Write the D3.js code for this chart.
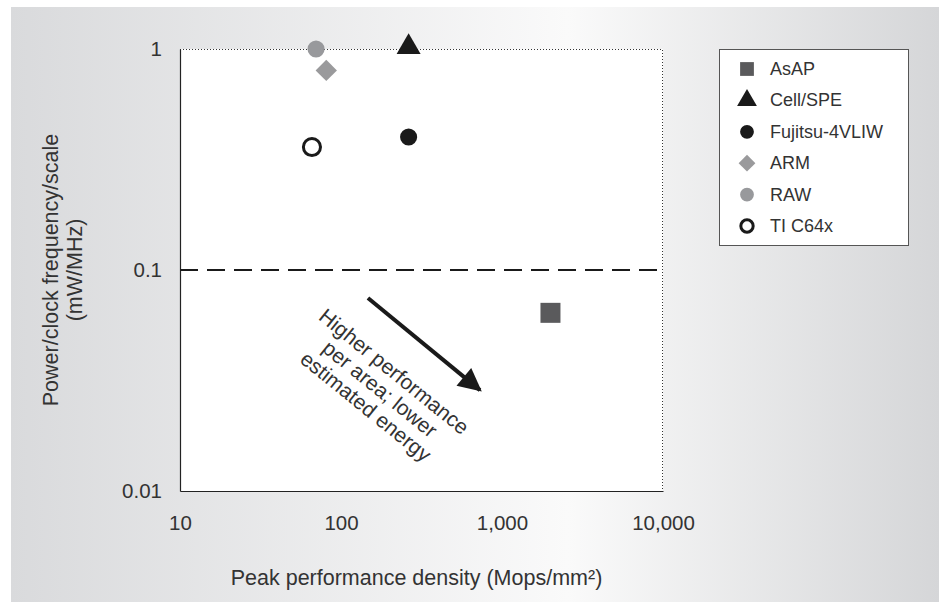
<!DOCTYPE html>
<html>
<head>
<meta charset="utf-8">
<script src="https://cdn.jsdelivr.net/npm/d3@7"></script>
<style>
  html, body { margin: 0; padding: 0; background: #fff; }
  svg { display: block; }
  text { font-family: "Liberation Sans", Arial, sans-serif; fill: #333; }
</style>
</head>
<body>
<svg id="chart" width="939" height="602"></svg>
<script>
  // processors, Mops/mm^2 vs mW/MHz
  var names = ["AsAP", "Cell/SPE", "Fujitsu-4VLIW", "ARM", "RAW", "TI C64x"];
  var density = [2000, 263, 263, 81, 70, 66];
  var power = [0.064, 1.0, 0.40, 0.80, 1.0, 0.36];
  var xTicks = [10, 100, 1000, 10000];
  var xTickLabels = ["10", "100", "1,000", "10,000"];
  var yTicks = [0.01, 0.1, 1];
  var yTickLabels = ["0.01", "0.1", "1"];
  var refLine = 0.1;
  var arrowFrom = [147, 0.0747];
  var arrowTo = [730, 0.0286];
  var noteAt = [175, 0.029];
  var noteLines = ["Higher performance", "per area; lower", "estimated energy"];

  var margin = { left: 180, top: 49, right: 276, bottom: 111 };
  var W = 939, H = 602;

  var svg = d3.select("#chart");

  var defs = svg.append("defs");
  var grad = defs.append("linearGradient").attr("id", "bg")
    .attr("x1", "0").attr("x2", "1").attr("y1", "0").attr("y2", "0");
  grad.append("stop").attr("offset", "0").attr("stop-color", "#d9dadc");
  grad.append("stop").attr("offset", "0.6").attr("stop-color", "#fafafa");
  grad.append("stop").attr("offset", "1").attr("stop-color", "#d5d6d8");

  defs.append("marker").attr("id", "head")
    .attr("viewBox", "0 0 10 10").attr("refX", 9).attr("refY", 5)
    .attr("markerWidth", 6.5).attr("markerHeight", 5.8)
    .attr("markerUnits", "strokeWidth").attr("orient", "auto")
    .append("path").attr("d", "M0,0L10,5L0,10Z").attr("fill", "#1a1a1a");

  svg.append("rect").attr("x", 11).attr("y", 7)
    .attr("width", W - 11).attr("height", H - 7).attr("fill", "url(#bg)");

  var x = d3.scaleLog().domain([10, 10000]).range([margin.left, W - margin.right]);
  var y = d3.scaleLog().domain([0.01, 1]).range([H - margin.bottom, margin.top]);

  var x0 = x.range()[0], x1 = x.range()[1], y0 = y.range()[0], y1 = y.range()[1];

  svg.append("rect").attr("x", x0).attr("y", y1)
    .attr("width", x1 - x0).attr("height", y0 - y1).attr("fill", "#fff");

  // dotted top/right frame
  svg.append("path")
    .attr("d", "M" + x0 + "," + (y1 + 0.5) + "H" + (x1 - 0.5) + "V" + y0)
    .attr("fill", "none").attr("stroke", "#333").attr("stroke-width", 1)
    .attr("stroke-dasharray", "1,2");

  var xAxis = d3.axisBottom(x).tickValues(xTicks)
    .tickFormat(function (d, i) { return xTickLabels[i]; })
    .tickSize(0).tickPadding(24);
  var yAxis = d3.axisLeft(y).tickValues(yTicks)
    .tickFormat(function (d, i) { return yTickLabels[i]; })
    .tickSize(0).tickPadding(18);

  var gx = svg.append("g").attr("transform", "translate(0," + y0 + ")").call(xAxis);
  var gy = svg.append("g").attr("transform", "translate(" + x0 + ",0)").call(yAxis);
  [gx, gy].forEach(function (g) {
    g.select(".domain").attr("stroke", "#222").attr("stroke-width", 1.2);
    g.selectAll("text").attr("font-size", 20.5)
      .attr("font-family", "Liberation Sans, Arial, sans-serif").attr("fill", "#333");
  });

  // reference line at 0.1
  svg.append("line")
    .attr("x1", x0).attr("x2", x1)
    .attr("y1", y(refLine)).attr("y2", y(refLine))
    .attr("stroke", "#1a1a1a").attr("stroke-width", 2)
    .attr("stroke-dasharray", "18,9");

  // arrow + note
  svg.append("line")
    .attr("x1", x(arrowFrom[0])).attr("y1", y(arrowFrom[1]))
    .attr("x2", x(arrowTo[0])).attr("y2", y(arrowTo[1]))
    .attr("stroke", "#1a1a1a").attr("stroke-width", 4)
    .attr("marker-end", "url(#head)");

  var note = svg.append("g")
    .attr("transform", "translate(" + x(noteAt[0]) + "," + y(noteAt[1]) + ") rotate(39)");
  note.selectAll("text").data(noteLines).enter().append("text")
    .attr("text-anchor", "middle").attr("dominant-baseline", "central")
    .attr("y", function (d, i) { return (i - 1) * 22.5; })
    .attr("font-size", 21)
    .text(function (d) { return d; });

  // marker shapes
  var styles = {
    "AsAP": { type: d3.symbolSquare, fill: "#5a5a5c", stroke: "none" },
    "Cell/SPE": { type: d3.symbolTriangle, fill: "#1a1a1a", stroke: "none" },
    "Fujitsu-4VLIW": { type: d3.symbolCircle, fill: "#1a1a1a", stroke: "none" },
    "ARM": { type: d3.symbolDiamond2, fill: "#9a9a9c", stroke: "none" },
    "RAW": { type: d3.symbolCircle, fill: "#98999c", stroke: "none" },
    "TI C64x": { type: d3.symbolCircle, fill: "#fff", stroke: "#1a1a1a" }
  };
  var plotSize = { "AsAP": 400, "Cell/SPE": 250, "Fujitsu-4VLIW": 230, "ARM": 290, "RAW": 230, "TI C64x": 230 };
  var legendSize = { "AsAP": 190, "Cell/SPE": 170, "Fujitsu-4VLIW": 150, "ARM": 180, "RAW": 150, "TI C64x": 120 };

  function drawSym(sel, sizes) {
    sel.attr("d", function (d) {
        return d3.symbol().type(styles[d].type).size(sizes[d])();
      })
      .attr("fill", function (d) { return styles[d].fill; })
      .attr("stroke", function (d) { return styles[d].stroke; })
      .attr("stroke-width", 3);
  }

  svg.append("g").selectAll("path")
    .data(names).enter().append("path")
    .attr("transform", function (d, i) {
      var dy = styles[d].type === d3.symbolTriangle ? -2 : 0;
      return "translate(" + x(density[i]) + "," + (y(power[i]) + dy) + ")";
    })
    .call(drawSym, plotSize);

  // legend
  var legend = svg.append("g").attr("transform", "translate(719,49)");
  legend.append("rect").attr("x", 0.5).attr("y", 0.5)
    .attr("width", 189).attr("height", 196)
    .attr("fill", "#fff").attr("stroke", "#555").attr("stroke-width", 1);
  var rows = legend.selectAll(".row").data(names).enter().append("g")
    .attr("class", "row")
    .attr("transform", function (d, i) { return "translate(0," + (20 + i * 31.4) + ")"; });
  rows.append("path").attr("transform", "translate(28,0)").call(drawSym, legendSize);
  rows.append("text").attr("x", 51).attr("dominant-baseline", "central")
    .attr("font-size", 18).text(function (d) { return d; });

  // axis titles
  svg.append("text")
    .attr("x", (x0 + x1) / 2 - 5).attr("y", 585)
    .attr("text-anchor", "middle").attr("font-size", 21.5)
    .text("Peak performance density (Mops/mm²)");

  var yt = svg.append("text")
    .attr("transform", "translate(50," + (y0 + y1) / 2 + ") rotate(-90)")
    .attr("text-anchor", "middle").attr("font-size", 21.5);
  yt.append("tspan").attr("x", 0).attr("dy", "0.35em").text("Power/clock frequency/scale");
  yt.append("tspan").attr("x", 0).attr("dy", "1.15em").text("(mW/MHz)");
</script>
</body>
</html>
